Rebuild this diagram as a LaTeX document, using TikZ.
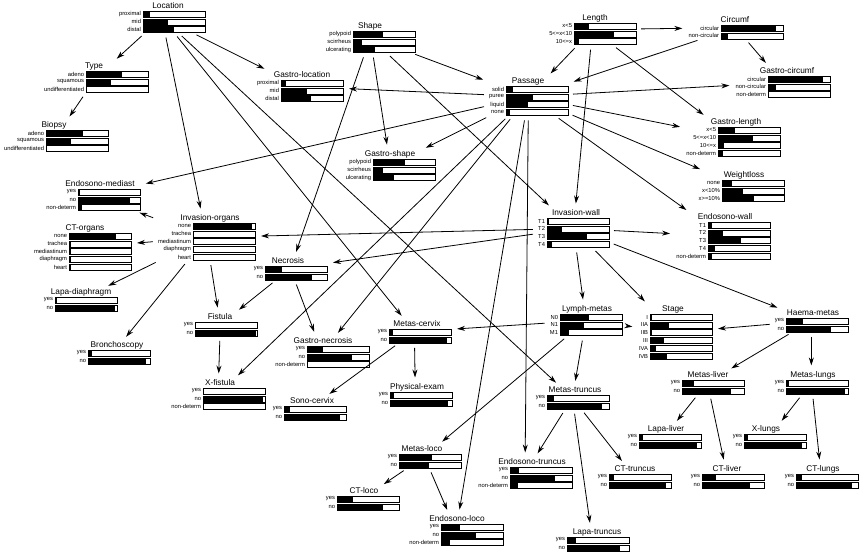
\documentclass[tikz,border=0pt]{standalone}
\usepackage{fontspec}
\setmainfont{Liberation Sans}
\usetikzlibrary{arrows.meta}
\tikzset{
  ttl/.style={font=\fontsize{8.3}{9}\selectfont, inner sep=0pt, anchor=base},
  lab/.style={font=\fontsize{5.8}{6}\selectfont, inner sep=0.3pt, anchor=east},
  barbox/.style={draw=black, line width=0.6pt},
  arr/.style={draw=black, line width=0.8pt, -{Stealth[length=8pt,width=5pt]}, shorten <=5pt, shorten >=6pt}
}
% #1 name, #2 bar left x, #3 bar top y, #4 title, #5 title centre x, #6 label/fraction list
\newcommand\bnnode[6]{%
  \begin{scope}[local bounding box=#1]
    \node[ttl] (#1-t) at (#5,#3-2.5) {#4};
    \foreach \lb/\fr [count=\i from 0] in {#6} {
      \fill[black] (#2,{#3+\i*7.8}) rectangle ++({62*\fr},6);
      \draw[barbox] (#2,{#3+\i*7.8}) rectangle ++(62,6);
      \node[lab] (#1-l\i) at (#2-1.5,{#3+\i*7.8+3}) {\lb};
    }
  \end{scope}}
\begin{document}
\begin{tikzpicture}[x=1pt,y=-1pt]
\fill[white] (0,0) rectangle (860,555);

\bnnode{loc}{143}{11}{Location}{168}{proximal/0.12, mid/0.4, distal/0.5}
\bnnode{type}{86}{71}{Type}{94}{adeno/0.58, squamous/0.4, undifferentiated/0.02}
\bnnode{biop}{46}{130}{Biopsy}{54}{adeno/0.59, squamous/0.41, undifferentiated/0.02}
\bnnode{shape}{353}{31}{Shape}{370}{polypoid/0.49, scirrheus/0.14, ulcerating/0.36}
\bnnode{gloc}{281}{80}{Gastro-location}{302}{proximal/0.08, mid/0.42, distal/0.49}
\bnnode{pass}{506}{86}{Passage}{528}{solid/0.11, puree/0.44, liquid/0.36, none/0.07}
\bnnode{gshape}{373}{159}{Gastro-shape}{390}{polypoid/0.52, scirrheus/0.16, ulcerating/0.34}
\bnnode{len}{574}{23}{Length}{595}{x<5/0.24, 5<=x<10/0.64, 10<=x/0.08}
\bnnode{circ}{721}{25}{Circumf}{735}{circular/0.89, non-circular/0.12}
\bnnode{gcirc}{768}{76}{Gastro-circumf}{787}{circular/0.88, non-circular/0.13, non-determ/0.02}
\bnnode{glen}{718}{127}{Gastro-length}{736}{x<5/0.27, 5<=x<10/0.57, 10<=x/0.1, non-determ/0.08}
\bnnode{wl}{722}{180}{Weightloss}{744}{none/0.16, x<10\%/0.34, x>=10\%/0.52}
\bnnode{ewall}{708}{222}{Endosono-wall}{725}{T1/0.06, T2/0.24, T3/0.53, T4/0.12, non-determ/0.06}
\bnnode{iwall}{547}{218}{Invasion-wall}{576}{T1/0.03, T2/0.24, T3/0.64, T4/0.08}
\bnnode{lymph}{560}{314}{Lymph-metas}{587}{N0/0.47, N1/0.39, M1/0.15}
\bnnode{stage}{650}{314}{Stage}{673}{I/0.03, IIA/0.31, IIB/0.03, III/0.23, IVA/0.09, IVB/0.27}
\bnnode{haema}{786}{318}{Haema-metas}{813}{yes/0.28, no/0.72}
\bnnode{mliver}{682}{380}{Metas-liver}{708}{yes/0.2, no/0.79}
\bnnode{mlungs}{786}{380}{Metas-lungs}{813}{yes/0.05, no/0.95}
\bnnode{lliver}{639}{434}{Lapa-liver}{666}{yes/0.07, no/0.94}
\bnnode{xlungs}{744}{434}{X-lungs}{766}{yes/0.07, no/0.93}
\bnnode{cttr}{609}{474}{CT-truncus}{635}{yes/0.08, no/0.92}
\bnnode{ctliver}{702}{474}{CT-liver}{727}{yes/0.22, no/0.78}
\bnnode{ctlungs}{796}{474}{CT-lungs}{823}{yes/0.1, no/0.9}
\bnnode{ltr}{567}{537}{Lapa-truncus}{597}{yes/0.14, no/0.86}
\bnnode{mtr}{547}{395}{Metas-truncus}{575}{yes/0.12, no/0.88}
\bnnode{etr}{510}{467}{Endosono-truncus}{532}{yes/0.14, no/0.73, non-determ/0.13}
\bnnode{mloco}{399}{454}{Metas-loco}{422}{yes/0.53, no/0.49}
\bnnode{ctloco}{337}{496}{CT-loco}{364}{yes/0.26, no/0.74}
\bnnode{eloco}{441}{524}{Endosono-loco}{457}{yes/0.31, no/0.56, non-determ/0.15}
\bnnode{pexam}{390}{392}{Physical-exam}{417}{yes/0.07, no/0.93}
\bnnode{scerv}{284}{406}{Sono-cervix}{312}{yes/0.1, no/0.9}
\bnnode{mcerv}{389}{329}{Metas-cervix}{417}{yes/0.07, no/0.93}
\bnnode{gnec}{307}{346}{Gastro-necrosis}{323}{yes/0.26, no/0.72, non-determ/0.02}
\bnnode{nec}{265}{266}{Necrosis}{288}{yes/0.28, no/0.75}
\bnnode{iorg}{193}{223}{Invasion-organs}{210}{none/0.95, trachea/0.02, mediastinum/0.02, diaphragm/0.02, heart/0.02}
\bnnode{fist}{195}{322}{Fistula}{220}{yes/0.02, no/0.98}
\bnnode{emed}{78}{189}{Endosono-mediast}{100}{yes/0.04, no/0.84, non-determ/0.06}
\bnnode{ctorg}{69}{233}{CT-organs}{85}{none/0.76, trachea/0.04, mediastinum/0.04, diaphragm/0.04, heart/0.04}
\bnnode{ldia}{55}{297}{Lapa-diaphragm}{81}{yes/0.03, no/0.97}
\bnnode{bron}{88}{350}{Bronchoscopy}{117}{yes/0.06, no/0.93}
\bnnode{xfist}{203}{388}{X-fistula}{220}{yes/0.02, no/0.97, non-determ/0.02}

\foreach \a/\b in {loc/type, type/biop, loc/gloc, loc/iorg, loc/mcerv, loc/mtr,
  shape/pass, shape/gshape, shape/nec, shape/iwall,
  len/pass, len/circ, len/glen, len/iwall, circ/pass, circ/gcirc,
  pass/gloc, pass/gshape, pass/gcirc, pass/glen, pass/wl, pass/ewall, pass/emed,
  pass/gnec, pass/xfist, pass/eloco, pass/etr,
  iwall/ewall, iwall/iorg, iwall/nec, iwall/lymph, iwall/stage, iwall/haema,
  lymph/stage, lymph/mcerv, lymph/mtr, lymph/mloco,
  haema/stage, haema/mliver, haema/mlungs,
  mliver/lliver, mliver/ctliver, mlungs/xlungs, mlungs/ctlungs,
  mtr/etr, mtr/ltr, mtr/cttr, mloco/ctloco, mloco/eloco,
  mcerv/pexam, mcerv/scerv, nec/gnec, nec/fist,
  iorg/fist, iorg/emed, iorg/ctorg, iorg/ldia, iorg/bron, fist/xfist}
  \draw[arr] (\a) -- (\b);

\pgfresetboundingbox
\path[use as bounding box] (0,0) rectangle (860,555);
\end{tikzpicture}
\end{document}
